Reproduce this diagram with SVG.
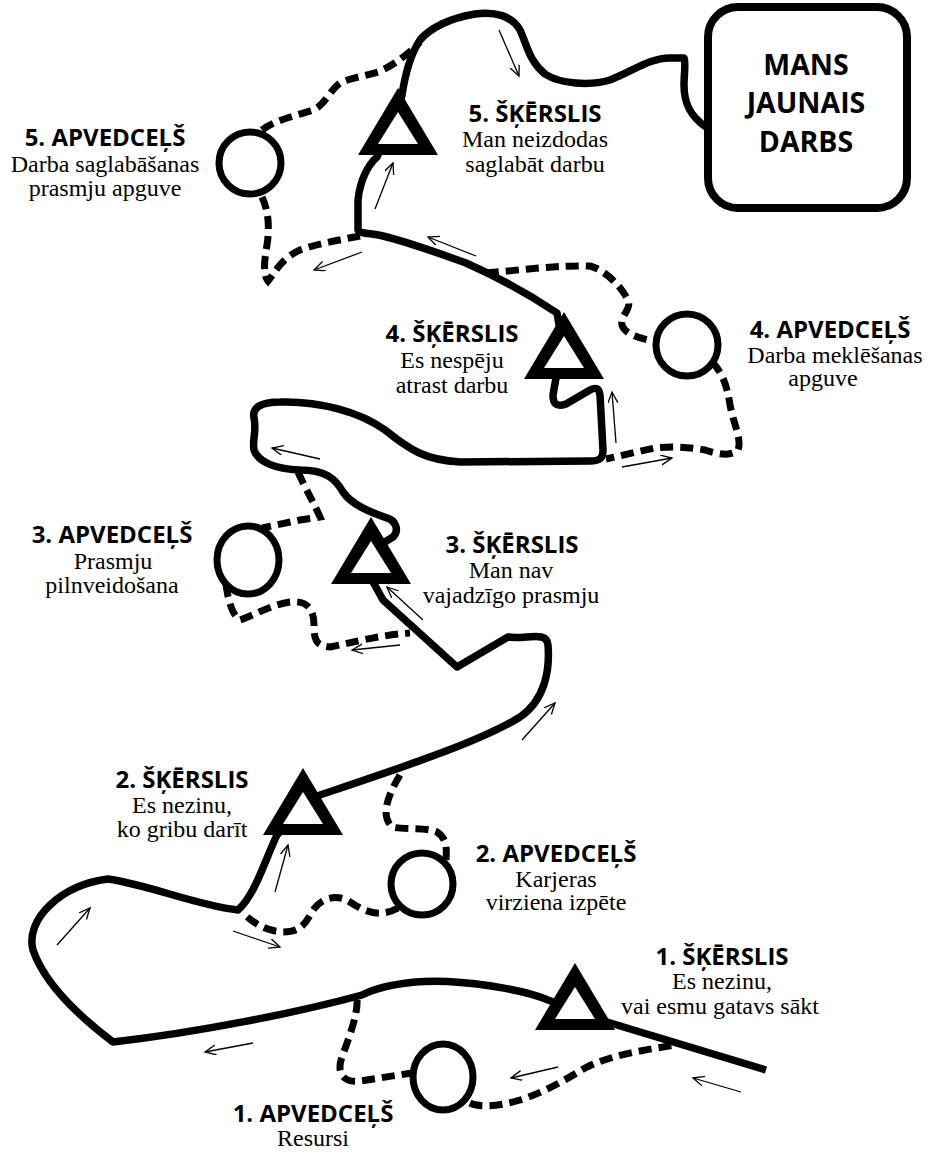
<svg xmlns="http://www.w3.org/2000/svg" xmlns:xlink="http://www.w3.org/1999/xlink" width="932" height="1154" viewBox="0 0 932 1154">
<style>
.main{fill:none;stroke:#000;stroke-width:7.5;stroke-linejoin:round;stroke-linecap:butt}
.dash{fill:none;stroke:#000;stroke-width:7;stroke-dasharray:13 7}
.arr{fill:none;stroke:#000;stroke-width:1.3;marker-end:url(#ah)}
.ring{fill:#fff;stroke:#000;stroke-width:7}
.b{font-family:'Open Sans','Noto Sans',sans-serif;font-weight:700;font-size:24px;text-anchor:middle}
.g{font-family:'Open Sans','Noto Sans',sans-serif;font-weight:700;font-size:28.5px;text-anchor:middle}
.ser{font-family:'Liberation Serif','DejaVu Serif',serif;font-size:24px;font-weight:400;text-anchor:middle}
</style>
<defs>
<marker id="ah" markerWidth="14" markerHeight="12" refX="11" refY="5" orient="auto" markerUnits="userSpaceOnUse">
<path d="M0,0 L11,5 L0,10" fill="none" stroke="#000" stroke-width="1.3"/>
</marker>
<g id="tri">
<polygon points="0,0 -40,67 40,67" fill="#000"/>
<polygon points="0,24 -20,56 20,56" fill="#fff"/>
</g>
</defs>
<rect width="932" height="1154" fill="#fff"/>
<g id="connectors">
<path class="main" d="M 766 1070 L 607 1022 L 548 1000 C 525 990 460 978 415 982 C 395 984 378 987 362 995 C 300 1012 200 1032 113 1042 C 80 1017 45 985 33 950 C 25 920 60 885 108 879 C 150 885 195 905 238 910 C 255 895 265 860 277 835 L 303 805 L 320 795 C 400 768 480 742 520 717 C 545 700 550 670 548 645 C 547 630 525 640 508 637 L 457 667 L 383 600 L 372 580 L 372 550 L 393 537 C 400 530 395 520 387 518 C 370 512 352 505 343 492 C 335 478 325 470 300 470 C 275 469 258 462 254 450 C 252 440 257 430 254 418 C 252 408 260 402 280 402 C 320 401 360 412 385 430 C 410 450 425 460 460 462 L 590 461 C 600 461 603 458 603 450 L 600 395 C 599 388 596 387 590 390 L 566 404 C 555 408 553 402 553 395 L 556 378 L 560 330 L 557 313 C 530 295 500 278 466 263 C 430 250 400 240 383 236 C 370 233 360 234 358 230 L 358 200 C 360 180 368 165 377 157 L 398 110 L 402 95 C 405 75 410 55 420 40 C 430 28 450 18 475 14 C 495 11 512 16 520 30 C 528 48 530 62 545 74 C 560 84 590 86 610 80 C 635 70 650 58 670 58 L 684 58 C 686 62 684 75 684 85 C 684 100 688 115 706 127"/>
<path class="dash" d="M 357 1000 C 358 1015 348 1040 341 1060 C 337 1075 345 1083 360 1081 L 412 1073"/>
<path class="dash" d="M 470 1103 C 480 1108 500 1106 520 1100 C 545 1092 565 1080 585 1068 C 610 1055 645 1050 675 1045"/>
<path class="dash" d="M 400 775 C 388 795 380 815 392 827 C 405 830 425 827 437 832 C 446 838 447 846 446 860"/>
<path class="dash" d="M 398 908 C 380 918 365 912 350 902 C 338 894 322 897 313 910 C 305 925 300 932 283 932 C 268 931 255 925 243 913"/>
<path class="dash" d="M 298 472 C 305 488 315 505 320 517 L 300 520 L 262 528"/>
<path class="dash" d="M 226 584 C 228 600 232 615 240 620 C 255 615 270 605 290 602 C 308 600 314 610 314 625 C 314 640 316 646 330 647 C 350 643 380 635 410 633"/>
<path class="dash" d="M 486 273 C 520 270 560 265 590 266 C 605 270 620 285 628 300 C 632 310 620 315 622 325 C 625 335 640 338 656 342"/>
<path class="dash" d="M 712 362 C 722 372 727 385 730 405 C 734 425 742 440 738 450 C 732 456 720 455 705 450 C 690 447 670 446 655 448 C 635 452 620 456 606 459"/>
<path class="dash" d="M 262 130 C 275 120 295 116 313 110 C 325 105 330 90 340 83 C 350 78 365 76 378 72 C 395 65 410 52 420 42"/>
<path class="dash" d="M 262 197 C 268 210 270 225 267 245 C 264 262 263 275 268 281 C 275 272 282 258 300 250 C 320 243 340 240 360 236"/>
<line class="arr" x1="499" y1="30" x2="519" y2="76"/>
<line class="arr" x1="375" y1="209" x2="393" y2="163"/>
<line class="arr" x1="476" y1="256" x2="428" y2="237"/>
<line class="arr" x1="362" y1="252" x2="314" y2="270"/>
<line class="arr" x1="616" y1="443" x2="612" y2="392"/>
<line class="arr" x1="622" y1="467" x2="672" y2="458"/>
<line class="arr" x1="320" y1="459" x2="272" y2="448"/>
<line class="arr" x1="423" y1="620" x2="387" y2="587"/>
<line class="arr" x1="400" y1="645" x2="352" y2="650"/>
<line class="arr" x1="522" y1="740" x2="555" y2="703"/>
<line class="arr" x1="275" y1="892" x2="288" y2="845"/>
<line class="arr" x1="57" y1="945" x2="90" y2="908"/>
<line class="arr" x1="233" y1="931" x2="280" y2="947"/>
<line class="arr" x1="253" y1="1043" x2="205" y2="1052"/>
<line class="arr" x1="558" y1="1067" x2="511" y2="1078"/>
<line class="arr" x1="741" y1="1092" x2="693" y2="1078"/>
</g>
<g id="goal">
<rect x="708" y="7" width="199" height="201" rx="30" fill="#fff" stroke="#000" stroke-width="8"/>
<text class="g" x="806" y="75">MANS</text>
<text class="g" x="806" y="113">JAUNAIS</text>
<text class="g" x="806" y="152">DARBS</text>
</g>
<g id="obstacle5">
<use xlink:href="#tri" transform="translate(398,88)"/>
<text class="b" x="535" y="122">5. ŠĶĒRSLIS</text>
<text class="ser" x="535" y="147">Man neizdodas</text>
<text class="ser" x="535" y="172">saglabāt darbu</text>
</g>
<g id="detour5">
<circle class="ring" cx="250" cy="163" r="31"/>
<text class="b" x="105" y="146">5. APVEDCEĻŠ</text>
<text class="ser" x="105" y="172">Darba saglabāšanas</text>
<text class="ser" x="105" y="196">prasmju apguve</text>
</g>
<g id="obstacle4">
<use xlink:href="#tri" transform="translate(564,312)"/>
<text class="b" x="452" y="342">4. ŠĶĒRSLIS</text>
<text class="ser" x="452" y="368">Es nespēju</text>
<text class="ser" x="452" y="393">atrast darbu</text>
</g>
<g id="detour4">
<circle class="ring" cx="687" cy="345" r="31"/>
<text class="b" x="830" y="338">4. APVEDCEĻŠ</text>
<text class="ser" x="835" y="363">Darba meklēšanas</text>
<text class="ser" x="823" y="386">apguve</text>
</g>
<g id="obstacle3">
<use xlink:href="#tri" transform="translate(371,517)"/>
<text class="b" x="512" y="553">3. ŠĶĒRSLIS</text>
<text class="ser" x="511" y="578">Man nav</text>
<text class="ser" x="511" y="603">vajadzīgo prasmju</text>
</g>
<g id="detour3">
<ellipse class="ring" cx="248" cy="560" rx="31" ry="34"/>
<text class="b" x="112" y="543">3. APVEDCEĻŠ</text>
<text class="ser" x="113" y="569">Prasmju</text>
<text class="ser" x="112" y="593">pilnveidošana</text>
</g>
<g id="obstacle2">
<use xlink:href="#tri" transform="translate(303,768)"/>
<text class="b" x="182" y="788">2. ŠĶĒRSLIS</text>
<text class="ser" x="182" y="813">Es nezinu,</text>
<text class="ser" x="182" y="837">ko gribu darīt</text>
</g>
<g id="detour2">
<circle class="ring" cx="422" cy="884" r="31"/>
<text class="b" x="556" y="862">2. APVEDCEĻŠ</text>
<text class="ser" x="556" y="887">Karjeras</text>
<text class="ser" x="556" y="910">virziena izpēte</text>
</g>
<g id="obstacle1">
<use xlink:href="#tri" transform="translate(575,963)"/>
<text class="b" x="722" y="965">1. ŠĶĒRSLIS</text>
<text class="ser" x="722" y="989">Es nezinu,</text>
<text class="ser" x="720" y="1014">vai esmu gatavs sākt</text>
</g>
<g id="detour1">
<ellipse class="ring" cx="443" cy="1077" rx="30" ry="33"/>
<text class="b" x="313" y="1122">1. APVEDCEĻŠ</text>
<text class="ser" x="313" y="1146">Resursi</text>
</g>
</svg>
